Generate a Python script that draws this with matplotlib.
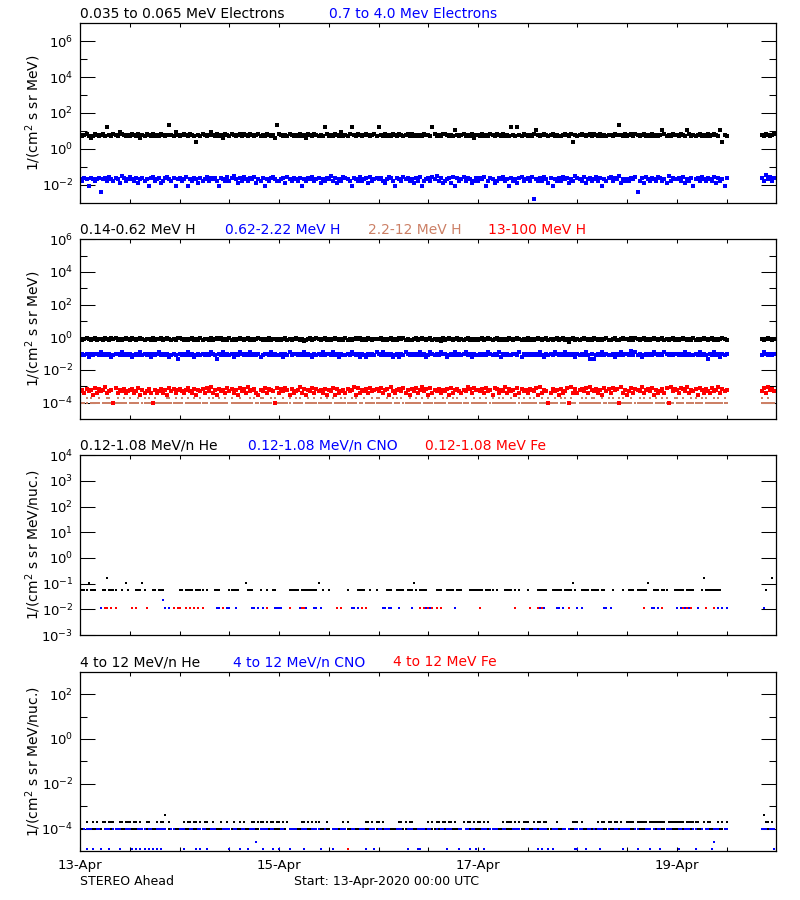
import numpy as np
import matplotlib
matplotlib.use('Agg')
import matplotlib.pyplot as plt
import matplotlib.dates as mdates

plt.rcParams['font.family'] = ['DejaVu Sans']
plt.rcParams['mathtext.default'] = 'regular'

t_start = np.datetime64('2020-04-13T00:00')
t_end = np.datetime64('2020-04-20T00:00')

BROWN = '#cc8066'

# one string per day (13-Apr .. 19-Apr), one character per 30 min
# '.' = no point, '-' = data gap; the level dicts give the flux for each character

# ---- panel 1: electrons
e_low_rows = [
    "65675457" "65675b65" "76587656" "57657465" "76575657" "656c6586",
    "56765765" "26576568" "65756476" "57656757" "65765675" "6576564c",
    "76565765" "65756476" "576565b7" "56576585" "657b6576" "56765675",
    "b6575657" "65765675" "75656576" "65b75657" "76565a65" "67565746",
    "65756576" "57657565" "b65b6576" "5657a656" "76567565" "56765726",
    "56765675" "76575656" "6576c657" "56757656" "75657565" "6a756576",
    "65765a75" "65675657" "56765a26" "5" "----------------" "6576567",
]
e_low_levels = {'2': 2.4, '4': 4.2, '5': 5.0, '6': 5.9, '7': 7.0, '8': 8.2,
                'a': 12.0, 'b': 17.0, 'c': 22.0}

e_high_rows = [
    "54652654" "56156475" "46538645" "75463564" "52674563" "46754625",
    "64572546" "53645746" "56426547" "46853647" "54657354" "62546754",
    "45637546" "54625465" "74563546" "58463547" "65426547" "45637456",
    "56435764" "26547564" "53647245" "64758463" "45637264" "57465346",
    "46572465" "34657452" "64536745" "64705464" "75362546" "47563548",
    "65473564" "57462546" "74658354" "54657146" "37546547" "64538465",
    "56473546" "25647546" "54736452" "6" "----------------" "6495746",
]
e_high_levels = {'0': 0.0017, '1': 0.004, '2': 0.008, '3': 0.012, '4': 0.016,
                 '5': 0.020, '6': 0.024, '7': 0.028, '8': 0.032, '9': 0.036}

# ---- panel 2: protons
h1_rows = [
    "87898789" "78879879" "89787898" "79878987" "88797889" "78987879",
    "98787897" "87978879" "78989787" "97878987" "89787898" "78797887",
    "87897878" "98786789" "78987897" "87898787" "97878989" "78798788",
    "89787897" "87989787" "78978987" "89787869" "78987897" "87897878",
    "78978987" "89787879" "87898787" "97878987" "89787897" "89785897",
    "87898787" "98787897" "78977898" "87979878" "97878987" "89787897",
    "87898787" "97878987" "89787898" "7" "----------------" "8789878",
]
h1_levels = {'5': 0.52, '6': 0.62, '7': 0.72, '8': 0.82, '9': 0.95}

h2_rows = [
    "45453545" "54645453" "45546454" "53454645" "45354564" "54534542",
    "54546453" "45454546" "54254645" "45354654" "54645453" "45546454",
    "45354645" "54546454" "35454645" "54645354" "45465453" "54354546",
    "54645453" "45354654" "54546453" "46545465" "53454645" "45645354",
    "45454654" "54635454" "45546354" "54545464" "35454654" "54645453",
    "54546425" "24546454" "45354645" "54746453" "45454654" "54654545",
    "54546454" "45464542" "54645354" "5" "----------------" "4654545",
]
h2_levels = {'2': 0.047, '3': 0.062, '4': 0.08, '5': 0.10, '6': 0.12, '7': 0.14}

h3_lo_rows = [
    "1111.111" "11.11111" "1111111." "11111.11" "111.1111" "11111111",
    "11.11111" "111111.1" "11111111" ".1111111" "1111.111" "11111.11",
    "111111.1" "1111.111" "11111111" "11.11111" "111111.1" "1.111111",
    "1111111." "111.1111" "11111.11" "11111111" "1.111111" "1111.111",
    "11111.11" "11111111" "111.1111" "11111.11" "1111111." "111.1111",
    ".1111111" "1111.111" "11111111" "111.1111" "11111.11" "1111111.",
    "1111.111" "11111.11" "11111111" "1" "----------------" "1111111",
]
h3_hi_rows = [
    "2..2.2.." ".2...22." "..2..2.." "2...2..2" ".2..2..." "..22..2.",
    ".2..2..2" "..2...2." "2..2..2." ".2...2.." "..2.2..2" "2...2.2.",
    "..2..2.." "2.2...2." ".2..2..2" "..2...2." "2..2.2.." ".2...2.2",
    "2...2..2" ".2.2...2" "..2..2.." "2..2...2" ".2..2.2." "..2...2.",
    ".2..2..2" "..2.2..." "2...2.2." ".2.2...2" "..2..2.." "2.2..2..",
    "..2.2..2" "2...2..2" ".2..2.2." "..2...2." "2..2..2." ".2.2...2",
    "2..2...2" ".2..2.2." "..2.2..2" "." "----------------" "2..2...",
]
h3_levels = {'1': 1.0e-4, '2': 2.0e-4}

h4_rows = [
    "56475638" "47569456" "18465745" "67458364" "57416457" "46385746",
    "75468547" "36574859" "46375648" "57463857" "49567436" "58476518",
    "47586374" "56947365" "84756473" "65837456" "47569384" "65748567",
    "58467395" "46758463" "75846957" "38465746" "57384675" "46597486",
    "65748563" "87465947" "56384756" "47658394" "65147563" "74581947",
    "46758496" "57463857" "48671946" "35847659" "46758364" "57481957",
    "64875946" "57386475" "48569475" "6" "----------------" "5849675",
]
h4_levels = {'1': 0.9e-4, '2': 2e-4, '3': 3e-4, '4': 4e-4, '5': 5e-4,
             '6': 6e-4, '7': 7e-4, '8': 8e-4, '9': 9e-4}

# ---- panel 3: 0.12-1.08 MeV/n heavy ions
he_lo_rows = [
    ".ooohooo" "...ooHoo" "oo..o.ho" "...oooho" "...oo.oo" "o.......",
    "oo.oooo." "oooo.o.." ".ooo...." "ooooo..." "hooo...o" "..o..oo.",
    ".....ooo" "oo.ooooo" "oooh.o.." "o......." ".o....oo" "oo..o..o",
    "....ooo." ".oooo.oo" "oho.oooo" "....ooo." ".oooo.oo" "o...oooo",
    "ooo.oooo" ".o...ooo" "o.o.o..." "o....ooo" "oo..oooo" "o.ooooho",
    "..oooo.o" "ooo.oo.." ".o....o." ".ooo.ooo" "ooh..ooo" ".ooo...o",
    "oooo.ooo" "o...oHoo" "oooooo.." "." "----------------" "..o..H.",
]
he_lo_levels = {'o': 0.055, 'h': 0.105, 'H': 0.16}

cno_lo_rows = [
    "........" "..o....." "........" "........" "........" "uo.o....",
    "........" "........" "..oo.o.o" "o..o...." "...oo.o." "o.....oo",
    "oo......" "..oo.o.." ".oo.o..." "........" "...oo.o." "........",
    "..oo.oo." "..o....." "o......o" ".o......" ".....o.." "........",
    "........" "........" "........" ".....oo." "o.....oo" ".o......",
    "o.o....." ".....oo." "o......." "........" "....oo.o" "........",
    "o.o.o.o." "..o....." "..o.o.o." "o" "----------------" ".o.....",
]
cno_lo_levels = {'o': 0.0115, 'u': 0.024}

fe_lo_rows = [
    "........" "....oo.o" ".o......" ".o.o...." "o......." ".....o.o",
    "o..o.o.o" ".o.o...." ".....o.." "........" "........" "..o.....",
    ".....o.." "...oo..." "........" "....o.o." "........" "o.o.....",
    "........" "........" "....o.o." "o.o.o.o." "........" "........",
    ".o......" "........" "..o....." ".o...o.o" "........" "....o...",
    "........" "........" "........" "........" "o......." ".o......",
    "...o.o.o" "......o." "..o....." "." "----------------" ".......",
]
fe_lo_levels = {'o': 0.0115}

# ---- panel 4: 4 to 12 MeV/n heavy ions
he_hi_rows = [
    "...o..o." "o..oo.oo" "o..oo.oo" "o.oo.o.." "oo...o.o" "oh.o....",
    "..o.oo.o" "o.o.oo.." "o...o..o" "..o..o.o" "...oo.oo" "o.o.oo.o",
    "o.o.o..." "...oo.o." "o.oo...o" ".......o" ".o......" "..oo.o.o",
    "o.o....." "..oo.o.o" "o......." "o.o.oo.o" "o.oo.o.." ".o.oo.o.",
    "oo.o.o.." "....o.oo" "o.o.o.oo" "o..o.oo." "oo....o." "......oo",
    "o.o....." "..o.oo.o" "o.oo.o.." "oooo.ooo" "oo.ooooo" "ooo.oooo",
    "oooo.ooo" "ooo..o.o" "o...o.o." "o" "----------------" ".hoo.o.",
]
he_hi_levels = {'o': 2.0e-4, 'h': 4.0e-4}

he_one_rows = [
    "llllllll" "lll.llll" "llllllll" "llll.lll" "llllllll" "ll.lllll",
    "llllllll" "l.llllll" "llllll.l" "llllllll" "lll.llll" "llllllll",
    "llll.lll" "llllllll" "llllllll" "l.llllll" "llllllll" "lllll.ll",
    "llllllll" "lll.llll" "llllllll" "llllll.l" "llllllll" "l.llllll",
    "llllllll" "llll.lll" "llllllll" "lllllll." "llllllll" "lll.llll",
    "ll.lllll" "llllllll" "lllll.ll" "llllllll" "llll.lll" "llllllll",
    "llllllll" "lllll.ll" "llllllll" "l" "----------------" "lllllll",
]
cno_one_rows = [
    "..llll.." "ll..lll." "llll..ll" "l...llll" ".ll..lll" "ll..ll..",
    "lll..ll." ".llll..l" "ll...lll" "l.ll..ll" "..lll..l" "lll.ll..",
    ".ll..lll" "l..lll.." "llll..l." "..lll.ll" "l..ll..l" "ll..lll.",
    "ll.lll.." ".lll..ll" "l..llll." "ll..l.ll" ".lll...l" "l.ll.ll.",
    "..lll.ll" "ll..ll.." ".llll..l" "l..ll.ll" "ll..lll." ".ll.l..l",
    "lll..ll." "l.lll..l" "..ll.lll" "ll..ll.." ".lll.l.l" "l..lll..",
    ".ll.lll." "ll..l.ll" "..lll..l" "l" "----------------" "lll.lll",
]
one_count_levels = {'l': 1.0e-4}

cno_hi_rows = [
    "...b..b." "..b...b." "...b...." ".b.b.b.b" ".b.b.b.b" "........",
    "..b....." "b.b..b.." "........" "b....b.." ".b...m.." "b....b..",
    "b....b.." "....b..." "....b..." "..b....." "........" "..b...b.",
    "........" "......b." "...bb..." "........" ".b.....b" "....b..b",
    "...b...." "........" "........" ".....b.b" "..b.b..." ".......b",
    "b...b..." "...b...." "......b." ".....b.." "...b...." "b.......",
    ".b......" ".b......" ".bm....." "." "----------------" "......b",
]
cno_hi_levels = {'b': 1.2e-5, 'm': 2.5e-5}

fe_hi_rows = [
    "",
    "",
    "........" "........" "........" "........" ".b......" "........",
    "",
    "",
    "",
    "",
]
fe_hi_levels = {'b': 1.2e-5}


def expand(rows, levels):
    t, v = [], []
    for day, row in enumerate(rows):
        if not row:
            continue
        step = 1440 / len(row)
        for i, c in enumerate(row):
            if c in levels:
                t.append(t_start + np.timedelta64(int(round(day * 1440 + i * step)), 'm'))
                v.append(levels[c])
    return np.array(t, dtype='datetime64[m]'), np.array(v)


def px(x, y):
    return x / 800, 1 - y / 900


panels = [
    dict(top=23.3, bottom=202.7, ylim=(1e-3, 1e7),
         major=[1e-2, 1e0, 1e2, 1e4, 1e6], minor=[1e-1, 1e1, 1e3, 1e5],
         ylabel='1/(cm$^2$ s sr MeV)', title_y=18.3,
         titles=[('0.035 to 0.065 MeV Electrons', 80.3, 'black'),
                 ('0.7 to 4.0 Mev Electrons', 329, 'blue')],
         series=[(e_low_rows, e_low_levels, 'black', 2.4),
                 (e_high_rows, e_high_levels, 'blue', 2.6)]),
    dict(top=239.3, bottom=419.0, ylim=(1e-5, 1e6),
         major=[1e-4, 1e-2, 1e0, 1e2, 1e4, 1e6], minor=[1e-3, 1e-1, 1e1, 1e3, 1e5],
         ylabel='1/(cm$^2$ s sr MeV)', title_y=234,
         titles=[('0.14-0.62 MeV H', 80.3, 'black'),
                 ('0.62-2.22 MeV H', 225, 'blue'),
                 ('2.2-12 MeV H', 368.3, BROWN),
                 ('13-100 MeV H', 488.3, 'red')],
         series=[(h1_rows, h1_levels, 'black', 2.6),
                 (h2_rows, h2_levels, 'blue', 2.6),
                 (h3_lo_rows, h3_levels, BROWN, 2.0),
                 (h3_hi_rows, h3_levels, BROWN, 1.8),
                 (h4_rows, h4_levels, 'red', 2.4)]),
    dict(top=455.3, bottom=635.0, ylim=(1e-3, 1e4),
         major=[1e-3, 1e-2, 1e-1, 1e0, 1e1, 1e2, 1e3, 1e4], minor=[],
         ylabel='1/(cm$^2$ s sr MeV/nuc.)', title_y=449.5,
         titles=[('0.12-1.08 MeV/n He', 80.3, 'black'),
                 ('0.12-1.08 MeV/n CNO', 248.3, 'blue'),
                 ('0.12-1.08 MeV Fe', 425, 'red')],
         series=[(he_lo_rows, he_lo_levels, 'black', 2.0),
                 (cno_lo_rows, cno_lo_levels, 'blue', 2.0),
                 (fe_lo_rows, fe_lo_levels, 'red', 2.0)]),
    dict(top=671.7, bottom=851.0, ylim=(1e-5, 1e3),
         major=[1e-4, 1e-2, 1e0, 1e2], minor=[1e-3, 1e-1, 1e1],
         ylabel='1/(cm$^2$ s sr MeV/nuc.)', title_y=666.5,
         titles=[('4 to 12 MeV/n He', 80.3, 'black'),
                 ('4 to 12 MeV/n CNO', 232.7, 'blue'),
                 ('4 to 12 MeV Fe', 393.3, 'red')],
         series=[(he_one_rows, one_count_levels, 'black', 1.6),
                 (he_hi_rows, he_hi_levels, 'black', 1.8),
                 (cno_one_rows, one_count_levels, 'blue', 1.6),
                 (cno_hi_rows, cno_hi_levels, 'blue', 1.8),
                 (fe_hi_rows, fe_hi_levels, 'red', 1.8)]),
]

fig = plt.figure(figsize=(8, 9), dpi=100)

for k, p in enumerate(panels):
    x0, y0 = px(80.3, p['bottom'])
    ax = fig.add_axes([x0, y0, 696 / 800, (p['bottom'] - p['top']) / 900])
    for rows, levels, color, ms in p['series']:
        t, v = expand(rows, levels)
        ax.plot(t, v, 's', color=color, ms=ms, mew=0, antialiased=False)
    ax.set_yscale('log')
    ax.set_ylim(*p['ylim'])
    ax.set_xlim(t_start, t_end)
    ax.set_yticks(p['major'])
    ax.set_yticklabels(['$10^{%d}$' % round(np.log10(m)) for m in p['major']])
    ax.set_yticks(p['minor'], minor=True)
    ax.yaxis.set_minor_formatter(plt.NullFormatter())
    ax.xaxis.set_major_locator(mdates.DayLocator(bymonthday=[13, 15, 17, 19]))
    ax.xaxis.set_minor_locator(mdates.HourLocator(byhour=[0, 12]))
    ax.xaxis.set_major_formatter(mdates.DateFormatter('%d-%b'))
    ax.tick_params(axis='x', which='both', direction='in', top=True, length=3,
                   width=0.75, labelsize=9.5, pad=6)
    ax.tick_params(axis='y', which='major', direction='in', right=True, length=10.8,
                   width=0.75, labelsize=9.5, pad=5)
    ax.tick_params(axis='y', which='minor', direction='in', right=True, length=5,
                   width=0.75)
    if k < 3:
        ax.tick_params(axis='x', labelbottom=False)
    for s in ax.spines.values():
        s.set_linewidth(0.9)
    ax.set_ylabel(p['ylabel'], fontsize=10, va='center')
    ax.yaxis.set_label_coords(-0.067, 0.5)
    for text, x, color in p['titles']:
        fig.text(*px(x, p['title_y']), text, color=color, fontsize=10, va='baseline')

fig.text(*px(80.3, 885), 'STEREO Ahead', fontsize=9, va='baseline')
fig.text(*px(294.3, 885), 'Start: 13-Apr-2020 00:00 UTC', fontsize=9, va='baseline')

fig.savefig('out.png', dpi=100)
